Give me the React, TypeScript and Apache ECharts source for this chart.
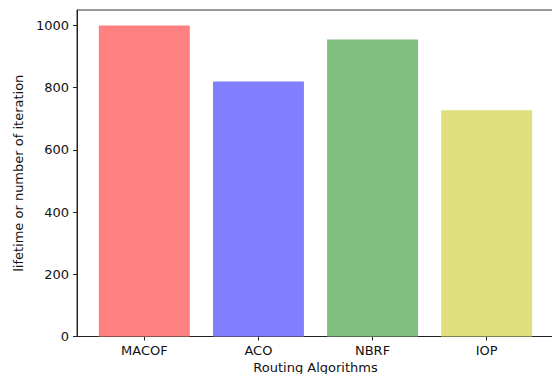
import { useEffect, useRef } from "react";
import * as echarts from "echarts";

// Lifetime per routing algorithm
const categories = ["MACOF", "ACO", "NBRF", "IOP"];
const lifetimes = [1000, 820, 955, 728];
const barColors = ["#ff8080", "#8080ff", "#80bf80", "#dfdf80"];
const yTicks = [0, 200, 400, 600, 800, 1000];
const xTicks = [0, 1, 2, 3];

const FONT = "DejaVu Sans";

export default function App() {
  const ref = useRef<HTMLDivElement>(null);

  useEffect(() => {
    const chart = echarts.init(ref.current!, null, { renderer: "svg" });
    chart.setOption({
      animation: false,
      backgroundColor: "#fff",
      textStyle: { fontFamily: FONT },
      grid: {
        left: 77,
        top: 10,
        right: 2,
        bottom: 37.5,
        outerBoundsMode: "none",
        containLabel: false,
        show: true,
        borderColor: "#333",
        borderWidth: 1,
        backgroundColor: "transparent",
      },
      xAxis: {
        type: "value",
        min: -0.59,
        max: 3.59,
        name: "Routing Algorithms",
        nameLocation: "middle",
        nameGap: 24,
        nameTextStyle: { fontSize: 13, color: "#111", fontFamily: FONT },
        splitLine: { show: false },
        axisLine: { show: true, onZero: false, lineStyle: { color: "#222", width: 1 } },
        axisTick: {
          show: true,
          length: 4,
          customValues: xTicks,
          lineStyle: { color: "#222" },
        },
        axisLabel: {
          customValues: xTicks,
          margin: 7,
          fontSize: 13,
          color: "#111",
          fontFamily: FONT,
          formatter: (v: number) => categories[Math.round(v)] ?? "",
        },
      },
      yAxis: {
        type: "value",
        min: 0,
        max: 1050,
        name: "lifetime or number of iteration",
        nameLocation: "middle",
        nameGap: 50,
        nameTextStyle: { fontSize: 13, color: "#111", fontFamily: FONT },
        splitLine: { show: false },
        axisLine: { show: true, onZero: false, lineStyle: { color: "#222", width: 1 } },
        axisTick: {
          show: true,
          length: 4,
          customValues: yTicks,
          lineStyle: { color: "#222" },
        },
        axisLabel: {
          customValues: yTicks,
          margin: 8,
          fontSize: 13,
          color: "#111",
          fontFamily: FONT,
          formatter: (v: number) => String(v),
        },
      },
      series: [
        {
          type: "bar",
          barWidth: 91,
          data: lifetimes.map((v, i) => ({
            value: [xTicks[i], v],
            itemStyle: { color: barColors[i] },
          })),
        },
      ],
    });
    return () => chart.dispose();
  }, []);

  return (
    <div
      style={{
        position: "fixed",
        left: 0,
        top: 0,
        width: 552,
        height: 374,
        overflow: "hidden",
        background: "#fff",
      }}
    >
      <div ref={ref} style={{ width: 556, height: 374 }} />
    </div>
  );
}
